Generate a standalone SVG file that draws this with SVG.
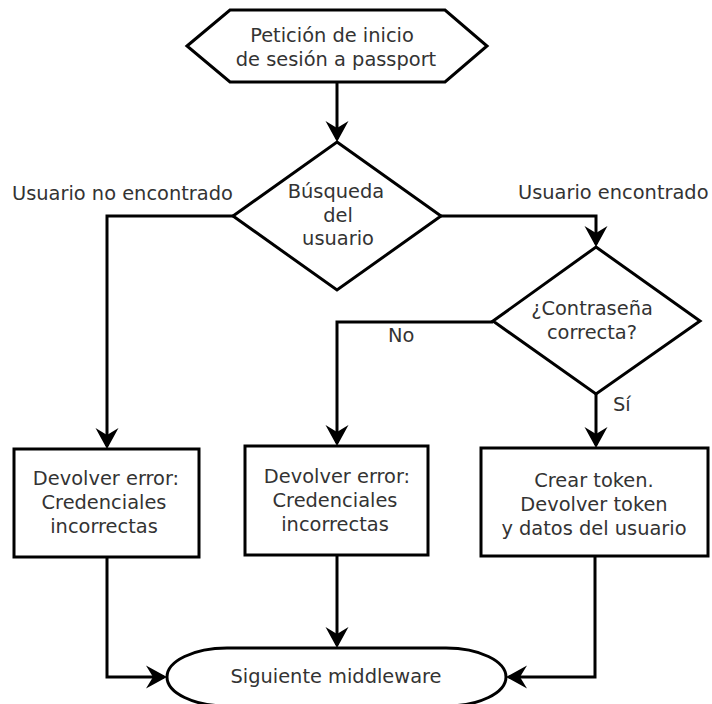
<svg xmlns="http://www.w3.org/2000/svg" width="712" height="704" viewBox="0 0 712 704">
  <style>
    .shape { fill: #ffffff; stroke: #000000; stroke-width: 3; stroke-linejoin: miter; }
    .edge { fill: none; stroke: #000000; stroke-width: 3; marker-end: url(#arrow); }
    .label { font-family: "DejaVu Sans", "Liberation Sans", sans-serif; font-size: 19.4px; fill: #333333; text-anchor: middle; }
    .left { text-anchor: start; }
  </style>
  <defs>
    <!-- concave filled arrowhead, tip lands 3px past the line end -->
    <marker id="arrow" markerUnits="userSpaceOnUse" viewBox="-19 -12 23 24" markerWidth="23" markerHeight="24" refX="0" refY="0" orient="auto">
      <path d="M3,0 L-18,-11.5 L-11,0 L-18,11.5 Z" fill="#000000"/>
    </marker>
  </defs>

  <rect width="712" height="704" fill="#ffffff"/>

  <!-- connectors -->
  <g id="connectors">
    <path class="edge" d="M337,82 L337,139"/>
    <path class="edge" d="M233,216 L107,216 L107,446"/>
    <path class="edge" d="M441,216 L596,216 L596,244"/>
    <path class="edge" d="M493,322 L337,322 L337,443"/>
    <path class="edge" d="M596,394 L596,445"/>
    <path class="edge" d="M107,557 L107,677 L164,677"/>
    <path class="edge" d="M337,555 L337,645"/>
    <path class="edge" d="M595,556 L595,677 L509,677"/>
    <text class="label left" x="12" y="200">Usuario no encontrado</text>
    <text class="label left" x="518" y="199">Usuario encontrado</text>
    <text class="label left" x="388" y="342">No</text>
    <text class="label left" x="613" y="411">Sí</text>
  </g>

  <!-- start: login request -->
  <g id="start">
    <polygon class="shape" points="187,46 230,10 445,10 487,46 445,82 230,82"/>
    <text class="label" x="332" y="41.5">Petición de inicio</text>
    <text class="label" x="336" y="65.5">de sesión a passport</text>
  </g>

  <!-- decision: user lookup -->
  <g id="lookup">
    <polygon class="shape" points="337,142 441,216 337,290 233,216"/>
    <text class="label" x="336" y="198">Búsqueda</text>
    <text class="label" x="338" y="222">del</text>
    <text class="label" x="338" y="245">usuario</text>
  </g>

  <!-- decision: password check -->
  <g id="password">
    <polygon class="shape" points="596,247 700,321 596,394 493,321"/>
    <text class="label" x="592" y="315">¿Contraseña</text>
    <text class="label" x="592" y="339">correcta?</text>
  </g>

  <!-- error: user not found -->
  <g id="error-user">
    <rect class="shape" x="14" y="449" width="185" height="108"/>
    <text class="label" x="106" y="485">Devolver error:</text>
    <text class="label" x="104" y="509">Credenciales</text>
    <text class="label" x="104" y="533">incorrectas</text>
  </g>

  <!-- error: wrong password -->
  <g id="error-password">
    <rect class="shape" x="245" y="446" width="183" height="109"/>
    <text class="label" x="337" y="483">Devolver error:</text>
    <text class="label" x="335" y="507">Credenciales</text>
    <text class="label" x="335" y="531">incorrectas</text>
  </g>

  <!-- success: issue token -->
  <g id="token">
    <rect class="shape" x="481" y="448" width="227" height="108"/>
    <text class="label" x="594" y="487">Crear token.</text>
    <text class="label" x="594" y="511">Devolver token</text>
    <text class="label" x="594" y="535">y datos del usuario</text>
  </g>

  <!-- end: next middleware -->
  <g id="next">
    <rect class="shape" x="167" y="648" width="339" height="58" rx="60" ry="29"/>
    <text class="label" x="336" y="683">Siguiente middleware</text>
  </g>
</svg>
